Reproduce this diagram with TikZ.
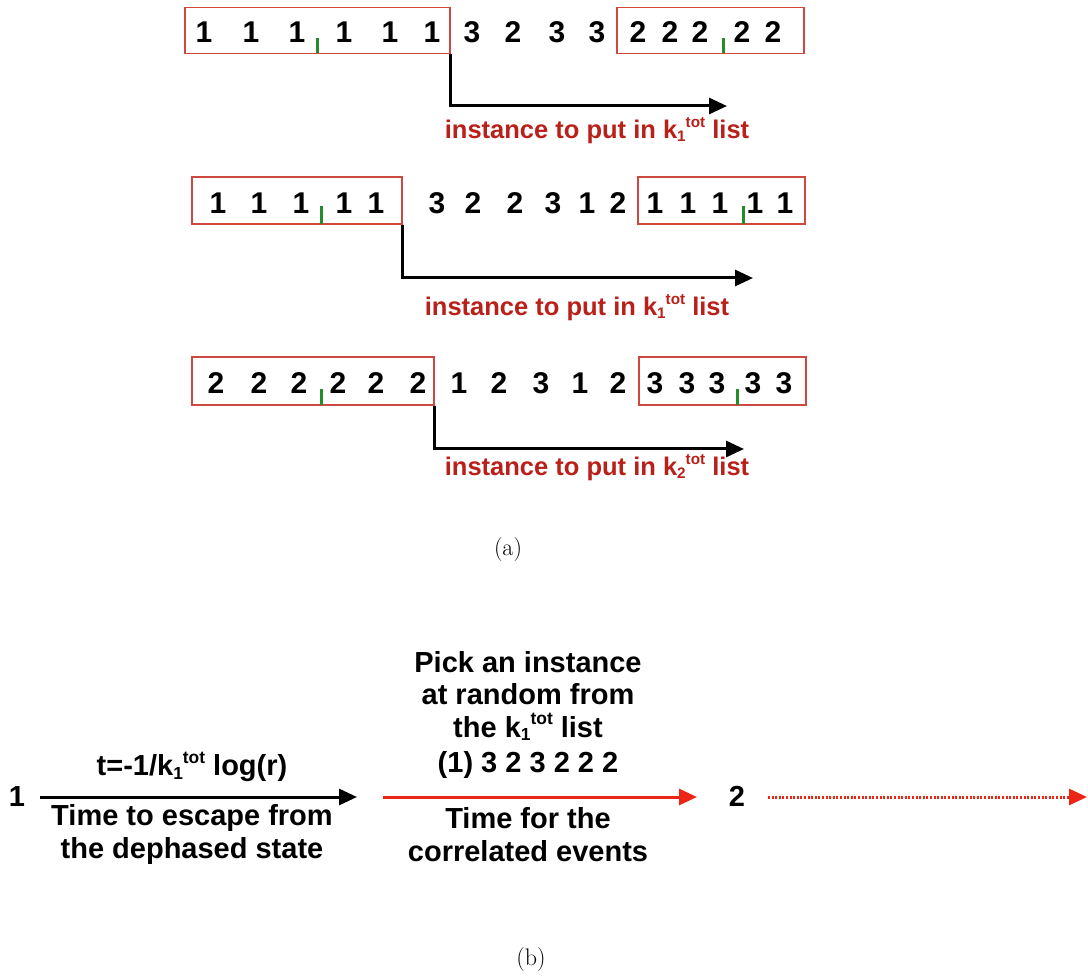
\documentclass[tikz,border=0pt]{standalone}
\usepackage{fontspec}
\usepackage{graphicx}
\newfontfamily\hv{Liberation Sans}
\usetikzlibrary{arrows.meta}
\definecolor{boxred}{RGB}{205,72,62}
\definecolor{labred}{RGB}{185,32,26}
\definecolor{arrred}{RGB}{236,38,22}
\definecolor{tickgreen}{RGB}{36,140,40}
% rate constant k with a small index and a "tot" superscript
\newcommand{\ktot}[1]{k\raisebox{-0.12em}{\scalebox{0.6}{#1}}\raisebox{0.42em}{\scalebox{0.6}{tot}}}
\begin{document}
\begin{tikzpicture}[x=1pt,y=-1pt,
  digit/.style={font=\hv\bfseries\fontsize{30}{30}\selectfont,inner sep=0pt},
  redlab/.style={font=\hv\bfseries\fontsize{25.5}{25.5}\selectfont,text=labred,inner sep=0pt},
  txt/.style={font=\hv\bfseries\fontsize{29}{29}\selectfont,inner sep=0pt},
  listbox/.style={draw=boxred,line width=1.5pt,inner sep=0pt},
  tick/.style={draw=tickgreen,line width=3pt},
  blkarrow/.style={draw=black,line width=3pt,-{Triangle[length=18pt,width=16pt]}},
  redarrow/.style={draw=arrred,line width=3pt,-{Triangle[length=18pt,width=16pt]}},
  dotarrow/.style={draw=arrred,line width=3pt,dash pattern=on 2pt off 1.6pt,
                   -{Triangle[length=18pt,width=16pt]}},
  caption/.style={font=\fontsize{24}{24}\selectfont,inner sep=0pt}]
\useasboundingbox (0,0) rectangle (1088,976);

% ---- row 1 ----
\node[listbox,minimum width=265pt,minimum height=46pt] (b1L) at (317.5,30.5) {};
\node[listbox,minimum width=187pt,minimum height=46pt] (b1R) at (710.5,30.5) {};
\foreach \x/\d [count=\i] in {204/1,251/1,297/1,344/1,390/1,432/1,472/3,513/2,557/3,597/3,638/2,670/2,700/2,742/2,773/2}
  \node[digit] (r1d\i) at (\x,32.5) {\d};
\draw[tick] (317,38) -- (317,53);
\draw[tick] (723,38) -- (723,53);
\coordinate (a1) at (727,106);
\draw[blkarrow] (b1L.south east) |- (a1);
\node[redlab] (l1) at (597,131) {instance to put in \ktot{1} list};

% ---- row 2 ----
\node[listbox,minimum width=210pt,minimum height=47pt] (b2L) at (297,200.5) {};
\node[listbox,minimum width=167pt,minimum height=47pt] (b2R) at (721.5,200.5) {};
\foreach \x/\d [count=\i] in {218/1,259/1,301/1,344/1,376/1,437/3,473/2,515/2,553/3,587/1,618/2,655/1,688/1,720/1,755/1,785/1}
  \node[digit] (r2d\i) at (\x,203) {\d};
\draw[tick] (321,206) -- (321,224);
\draw[tick] (743,206) -- (743,224);
\coordinate (a2) at (753,278);
\draw[blkarrow] (b2L.south east) |- (a2);
\node[redlab] (l2) at (577,308) {instance to put in \ktot{1} list};

% ---- row 3 ----
\node[listbox,minimum width=242pt,minimum height=48pt] (b3L) at (313,381) {};
\node[listbox,minimum width=167pt,minimum height=48pt] (b3R) at (722.5,381) {};
\foreach \x/\d [count=\i] in {216/2,259/2,299/2,338/2,376/2,418/2,459/1,499/2,541/3,580/1,618/2,655/3,687/3,717/3,753/3,784/3}
  \node[digit] (r3d\i) at (\x,383) {\d};
\draw[tick] (321,389) -- (321,405);
\draw[tick] (737,389) -- (737,405);
\coordinate (a3) at (744,449);
\draw[blkarrow] (b3L.south east) |- (a3);
\node[redlab] (l3) at (597,468) {instance to put in \ktot{2} list};

\node[caption] (capa) at (508,550) {(a)};

% ---- part (b) ----
\node[txt] (s1) at (17,797) {1};
\node[txt] (s2) at (737,796) {2};
\coordinate (p0) at (40,797);
\coordinate (p1) at (357,797);
\coordinate (q0) at (383,797);
\coordinate (q1) at (697,797);
\coordinate (d0) at (768,797);
\coordinate (d1) at (1087,797);
\draw[blkarrow] (p0) -- (p1);
\draw[redarrow] (q0) -- (q1);
\draw[dotarrow] (d0) -- (d1);

\node[txt] (t1) at (192,767) {t=-1/\ktot{1} log(r)};
\node[txt] (t2) at (192,818) {Time to escape from};
\node[txt] (t3) at (192,851) {the dephased state};

\node[txt] (u1) at (528,662) {Pick an instance};
\node[txt] (u2) at (528,694) {at random from};
\node[txt] (u3) at (528,727) {the \ktot{1} list};
\node[txt] (u4) at (528,765) {(1) 3 2 3 2 2 2};
\node[txt] (u5) at (528,818) {Time for the};
\node[txt] (u6) at (528,851) {correlated events};

\node[caption] (capb) at (531,960) {(b)};
\end{tikzpicture}
\end{document}
